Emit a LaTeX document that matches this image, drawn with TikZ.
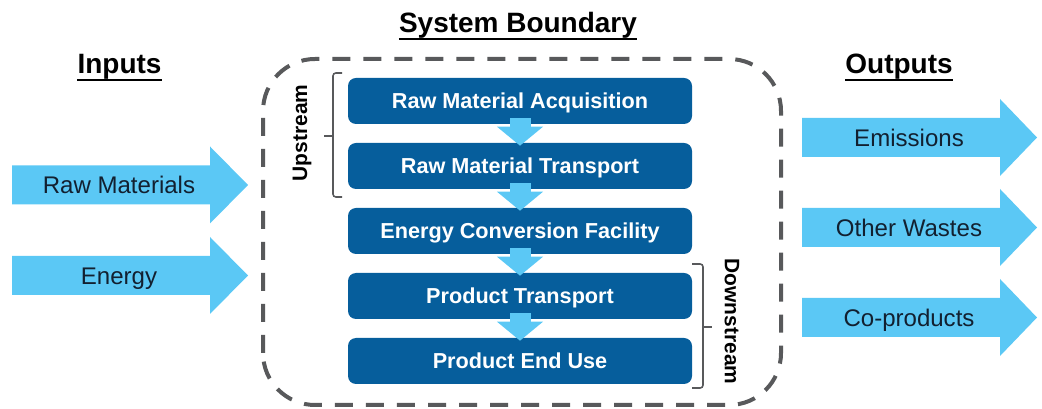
\documentclass[tikz,border=0pt]{standalone}
\usepackage{fontspec}
\setmainfont{Liberation Sans}
\usepackage{tikz}
\usetikzlibrary {arrows.meta}

\definecolor{boxblue}{RGB}{6,94,156}
\definecolor{arrowblue}{RGB}{91,200,245}
\definecolor{labeltext}{RGB}{18,32,48}
\definecolor{boundgray}{RGB}{88,89,91}

\tikzset{
  stage/.style={fill=boxblue, rounded corners=0.2cm, minimum width=8.6cm,
    minimum height=1.15cm, inner sep=0pt, text=white, text height=11pt, text depth=0pt,
    font=\bfseries\fontsize{15.4pt}{18pt}\selectfont},
  downarrow/.style={draw=arrowblue, line width=0.525cm,
    -{Triangle[width=1.125cm,length=0.475cm]}},
  flowlabel/.style={inner sep=0pt, text=labeltext, text height=12.2pt, text depth=0pt,
    font=\fontsize{17.1pt}{20pt}\selectfont},
  heading/.style={inner sep=0pt, anchor=base, font=\bfseries\fontsize{19.9pt}{22pt}\selectfont},
  sidelabel/.style={inner sep=0pt, font=\bfseries\fontsize{14.9pt}{17pt}\selectfont},
  bracket/.style={draw=boundgray, line width=1.1pt, rounded corners=2pt},
  underbar/.style={line width=1.8pt}
}

\begin{document}
\begin{tikzpicture}
    \useasboundingbox (0,0) rectangle (26.05,10.225);

    % headings
    \node[heading] (sysbound) at (12.95,9.4) {System Boundary};
    \node[heading] (inputs) at (2.9875,8.375) {Inputs};
    \node[heading] (outputs) at (22.475,8.375) {Outputs};
    \draw[underbar] ([yshift=-0.15cm]sysbound.base west) -- ([yshift=-0.15cm]sysbound.base east);
    \draw[underbar] ([yshift=-0.15cm]inputs.base west) -- ([yshift=-0.15cm]inputs.base east);
    \draw[underbar] ([yshift=-0.15cm]outputs.base west) -- ([yshift=-0.15cm]outputs.base east);

    % boundary
    \draw[draw=boundgray, line width=0.1cm, dash pattern=on 0.45cm off 0.325cm,
      rounded corners=1.3cm] (6.575,0.1) rectangle (19.525,8.75);

    % stages
    \node[stage] (acq) at (13,7.7) {Raw Material Acquisition};
    \node[stage] (rmtrans) at (13,6.075) {Raw Material Transport};
    \node[stage] (ecf) at (13,4.45) {Energy Conversion Facility};
    \node[stage] (ptrans) at (13,2.825) {Product Transport};
    \node[stage] (enduse) at (13,1.2) {Product End Use};
    \draw[downarrow] ([yshift=0.15cm]acq.south) -- ([yshift=-0.075cm]rmtrans.north);
    \draw[downarrow] ([yshift=0.15cm]rmtrans.south) -- ([yshift=-0.075cm]ecf.north);
    \draw[downarrow] ([yshift=0.15cm]ecf.south) -- ([yshift=-0.075cm]ptrans.north);
    \draw[downarrow] ([yshift=0.15cm]ptrans.south) -- ([yshift=-0.075cm]enduse.north);

    % brackets
    \draw[bracket] (8.55,8.4) -- (8.325,8.4) -- (8.325,5.3) -- (8.55,5.3);
    \draw[bracket] (8.325,6.825) -- (8.1,6.825);
    \draw[bracket] (17.3,3.625) -- (17.575,3.625) -- (17.575,0.525) -- (17.3,0.525);
    \draw[bracket] (17.575,2.05) -- (17.8,2.05);
    \node[sidelabel, rotate=90] (upstream) at (7.55,6.9) {Upstream};
    \node[sidelabel, rotate=-90] (downstream) at (18.3,2.1875) {Downstream};

    % inputs
    \fill[arrowblue] (0.3,5.1125) -- (5.25,5.1125) -- (5.25,4.6375) -- (6.2,5.6)
      -- (5.25,6.5625) -- (5.25,6.0875) -- (0.3,6.0875) -- cycle;
    \node[flowlabel] (rawmat) at (2.975,5.6) {Raw Materials};
    \fill[arrowblue] (0.3,2.85) -- (5.25,2.85) -- (5.25,2.375) -- (6.2,3.3375)
      -- (5.25,4.3) -- (5.25,3.825) -- (0.3,3.825) -- cycle;
    \node[flowlabel] (energy) at (2.975,3.3375) {Energy};

    % outputs
    \fill[arrowblue] (20.05,6.3) -- (25,6.3) -- (25,5.825) -- (25.925,6.7875)
      -- (25,7.75) -- (25,7.275) -- (20.05,7.275) -- cycle;
    \node[flowlabel] (emis) at (22.725,6.7875) {Emissions};
    \fill[arrowblue] (20.05,4.05) -- (25,4.05) -- (25,3.575) -- (25.925,4.5375)
      -- (25,5.5) -- (25,5.025) -- (20.05,5.025) -- cycle;
    \node[flowlabel] (wastes) at (22.725,4.5375) {Other Wastes};
    \fill[arrowblue] (20.05,1.8) -- (25,1.8) -- (25,1.325) -- (25.925,2.2875)
      -- (25,3.25) -- (25,2.775) -- (20.05,2.775) -- cycle;
    \node[flowlabel] (coprod) at (22.725,2.2875) {Co-products};
\end{tikzpicture}
\end{document}
